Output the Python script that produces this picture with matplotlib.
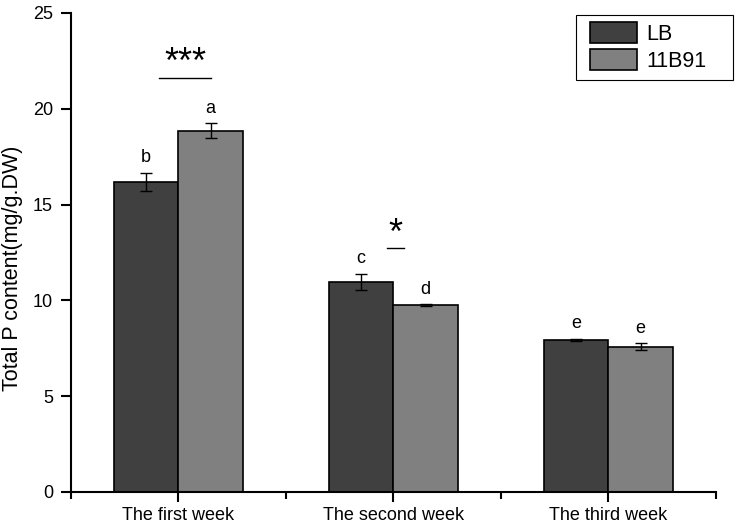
import numpy as np
import matplotlib.pyplot as plt
from matplotlib.patches import Rectangle
from matplotlib.ticker import FixedLocator

plt.rcParams["font.family"] = ["Liberation Sans", "DejaVu Sans"]

weeks = ["The first week", "The second week", "The third week"]
lb_mean = [16.18, 10.96, 7.93]
lb_err = [0.46, 0.44, 0.06]
b91_mean = [18.86, 9.74, 7.58]
b91_err = [0.38, 0.05, 0.18]
lb_letters = ["b", "c", "e"]
b91_letters = ["a", "d", "e"]
signif = {0: "***", 1: "*"}

fig = plt.figure(figsize=(7.38, 5.24), dpi=100)
ax = fig.add_axes([0.0962, 0.0611, 0.8738, 0.9141])

x = np.arange(len(weeks)) + 0.5
w = 0.3

ax.bar(x - w / 2, lb_mean, w, color="#404040", edgecolor="black", linewidth=1.2, label="LB", zorder=2)
ax.bar(x + w / 2, b91_mean, w, color="#808080", edgecolor="black", linewidth=1.2, label="11B91", zorder=2)
ax.errorbar(x - w / 2, lb_mean, yerr=lb_err, fmt="none", ecolor="black", elinewidth=1, capsize=4, capthick=1, zorder=3)
ax.errorbar(x + w / 2, b91_mean, yerr=b91_err, fmt="none", ecolor="black", elinewidth=1, capsize=4, capthick=1, zorder=3)

for i in range(len(weeks)):
    ax.text(x[i] - w / 2, lb_mean[i] + lb_err[i] + 0.35, lb_letters[i], ha="center", va="bottom", fontsize=13)
    ax.text(x[i] + w / 2, b91_mean[i] + b91_err[i] + 0.35, b91_letters[i], ha="center", va="bottom", fontsize=13)

# significance marks
ax.plot([x[0] - 0.09, x[0] + 0.15], [21.6, 21.6], color="black", lw=1)
ax.text(x[0] + 0.03, 22.35, signif[0], ha="center", va="center", fontsize=26)
ax.plot([x[1] - 0.03, x[1] + 0.05], [12.73, 12.73], color="black", lw=1)
ax.text(x[1] + 0.01, 13.45, signif[1], ha="center", va="center", fontsize=26)

ax.set_xlim(0, 3)
ax.set_ylim(0, 25)
ax.set_yticks([0, 5, 10, 15, 20, 25])
ax.set_xticks(x)
ax.set_xticklabels(weeks, fontsize=13)
ax.xaxis.set_minor_locator(FixedLocator([0, 1, 2, 3]))
ax.tick_params(axis="y", labelsize=13, direction="out", length=7, width=1.5, pad=6)
ax.tick_params(axis="x", which="major", direction="out", length=7, width=1.5)
ax.tick_params(axis="x", which="minor", direction="out", length=5, width=1.5)
ax.set_ylabel("Total P content(mg/g.DW)", fontsize=15.5)
ax.yaxis.set_label_coords(-0.074, 0.468)

for s in ["top", "right"]:
    ax.spines[s].set_visible(False)
for s in ["left", "bottom"]:
    ax.spines[s].set_linewidth(1.5)

# legend: frame drawn separately to get the wide right margin
leg = fig.legend(*ax.get_legend_handles_labels(), loc="upper left",
                 bbox_to_anchor=(590 / 738, 1 - 22 / 524), borderaxespad=0, borderpad=0,
                 fontsize=15.5, frameon=False, handlelength=2.2, handleheight=1.1,
                 handletextpad=0.4, labelspacing=0.2)
fig.add_artist(Rectangle((576 / 738, 1 - 80 / 524), 157 / 738, 65 / 524, transform=fig.transFigure,
                         facecolor="none", edgecolor="black", linewidth=0.8))

fig.savefig("out.png", dpi=100)
